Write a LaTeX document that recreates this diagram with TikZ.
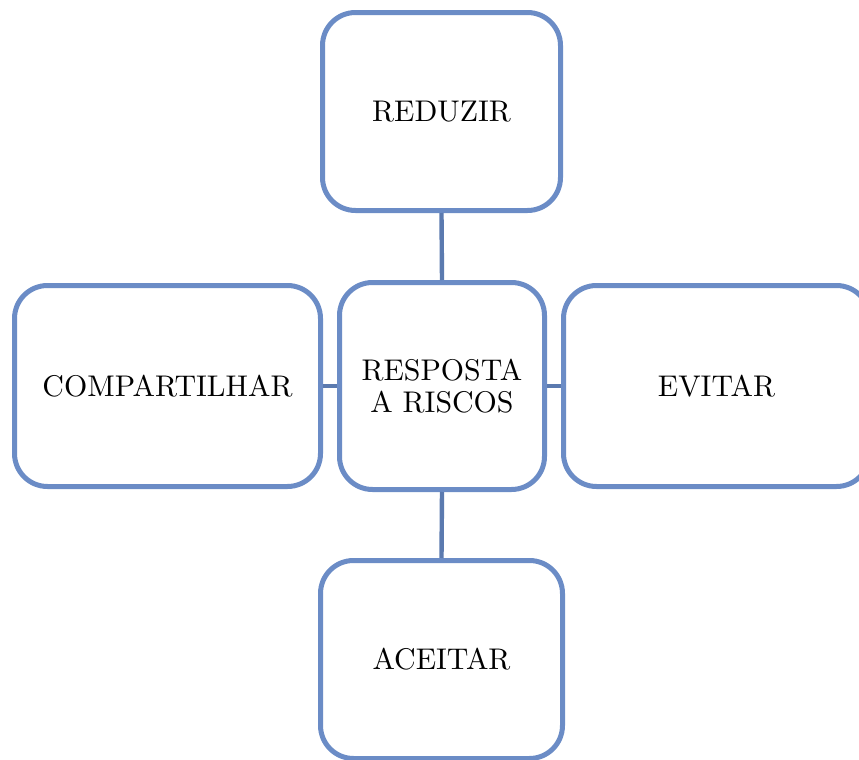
\documentclass[tikz,border=0pt]{standalone}
\usepackage{fontspec}
\newfontfamily\lmten[Extension=.otf]{lmroman10-regular}
\begin{document}
\begin{tikzpicture}[x=0.5pt,y=-0.5pt,
  boxstyle/.style={draw=boxblue, line width=2.5pt, rounded corners=16.5pt, fill=white,
    align=center, inner sep=0pt, font=\lmten\fontsize{14.95}{15.8}\selectfont, text=black},
  linkstyle/.style={draw=linkblue, line width=2.2pt}]
\definecolor{boxblue}{HTML}{6B8CC6}
\definecolor{linkblue}{HTML}{5B7AAF}
\useasboundingbox (0,0) rectangle (859,760);
\clip (0,0) rectangle (859,760);
\node[boxstyle, minimum width=119pt, minimum height=99pt] (red) at (441.5,111.5) {REDUZIR};
\node[boxstyle, minimum width=102.5pt, minimum height=103.5pt] (ctr) at (442,386) {RESPOSTA\\A RISCOS};
\node[boxstyle, minimum width=153pt, minimum height=100.5pt] (comp) at (167.5,386) {COMPARTILHAR};
\node[boxstyle, minimum width=153pt, minimum height=100.5pt] (evi) at (716.5,386) {EVITAR};
\node[boxstyle, minimum width=121pt, minimum height=99pt] (ace) at (441.5,659.5) {ACEITAR};
\draw[linkstyle] (red.south) -- (ctr.north);
\draw[linkstyle] (ctr.south) -- (ace.north);
\draw[linkstyle] (comp.east) -- (ctr.west);
\draw[linkstyle] (ctr.east) -- (evi.west);
\end{tikzpicture}
\end{document}
